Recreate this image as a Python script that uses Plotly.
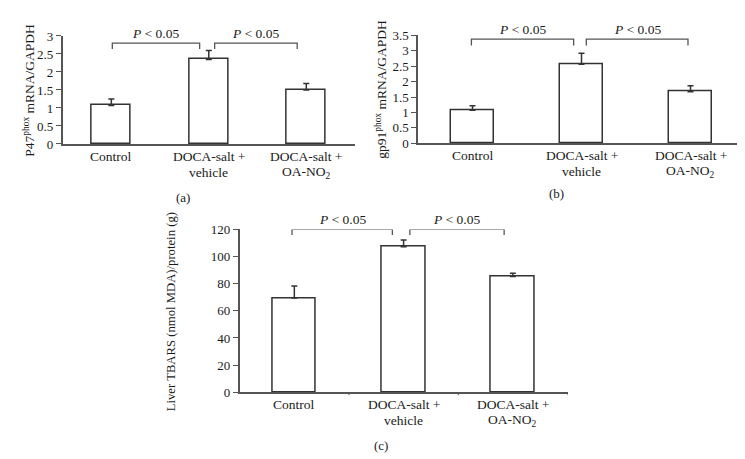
import plotly.graph_objects as go

label_line1 = ["Control", "DOCA-salt +", "DOCA-salt +"]
label_line2 = ["", "vehicle", "OA-NO<sub>2</sub>"]

p47_means = [1.07, 2.35, 1.50]
p47_err = [0.18, 0.25, 0.18]

gp91_means = [1.07, 2.56, 1.67]
gp91_err = [0.15, 0.36, 0.20]

tbars_means = [69.4, 107.2, 85.3]
tbars_err = [9.0, 5.0, 2.4]

p47_ticks = [0, 0.5, 1, 1.5, 2, 2.5, 3]
gp91_ticks = [0, 0.5, 1, 1.5, 2, 2.5, 3, 3.5]
tbars_ticks = [0, 20, 40, 60, 80, 100, 120]

FONT = "Liberation Serif"
AX = "#555555"
BAR_LINE = "#333333"
TXT = "#1a1a1a"

W, H = 745, 459

def px_x(p):
    return p / W

def px_y(p):
    return 1 - p / H

fig = go.Figure()

panels = [
    ("x", "y", p47_means, p47_err),
    ("x2", "y2", gp91_means, gp91_err),
    ("x3", "y3", tbars_means, tbars_err),
]
for xa, ya, means, err in panels:
    fig.add_trace(go.Bar(
        x=[0, 1, 2], y=means, xaxis=xa, yaxis=ya, width=0.40,
        marker=dict(color="white", line=dict(color=BAR_LINE, width=1.5)),
        error_y=dict(type="data", symmetric=False, array=err,
                     arrayminus=[0, 0, 0], color=BAR_LINE, thickness=1.5, width=3),
        showlegend=False, hoverinfo="skip",
    ))

def xaxis(domain, anchor):
    return dict(
        domain=domain, range=[-0.5, 2.5], anchor=anchor,
        showticklabels=False,
        showline=True, linecolor=AX, linewidth=1.5, showgrid=False,
        zeroline=False, ticks="", fixedrange=True,
    )

def yaxis(domain, rng, ticks, anchor):
    return dict(
        domain=domain, range=rng, tickmode="array", tickvals=ticks,
        showline=True, linecolor=AX, linewidth=1.5, showgrid=False,
        zeroline=False, ticks="outside", ticklen=5, tickcolor=AX,
        tickwidth=1, anchor=anchor, fixedrange=True,
        tickfont=dict(family=FONT, size=13, color=TXT),
    )

fig.update_layout(
    width=W, height=H,
    margin=dict(l=0, r=0, t=0, b=0),
    paper_bgcolor="white", plot_bgcolor="white",
    bargap=0,
    xaxis=xaxis([px_x(54.6), px_x(347)], "y"),
    xaxis2=xaxis([px_x(410), px_x(737)], "y2"),
    xaxis3=xaxis([px_x(231.7), px_x(559.5)], "y3"),
    yaxis=yaxis([px_y(133.3), px_y(21.7)], [0, 3], p47_ticks, "x"),
    yaxis2=yaxis([px_y(132.7), px_y(21)], [0, 3.5], gp91_ticks, "x2"),
    yaxis3=yaxis([px_y(390), px_y(221.7)], [0, 120], tbars_ticks, "x3"),
)

# category labels (two lines each)
for xr, axis_px in [("x", 133.3), ("x2", 132.7), ("x3", 390)]:
    for i in range(3):
        for txt, off in [(label_line1[i], 13.0), (label_line2[i], 29.5)]:
            if not txt:
                continue
            fig.add_annotation(x=i, y=px_y(axis_px + off), xref=xr, yref="paper",
                               text=txt, showarrow=False,
                               xanchor="center", yanchor="middle",
                               font=dict(family=FONT, size=13.5, color=TXT))

# boundary ticks on panel (c)
for b in [0.5, 1.5, 2.5]:
    fig.add_shape(type="line", xref="x3", yref="paper", x0=b, x1=b,
                  y0=px_y(390), y1=px_y(393), line=dict(color=AX, width=1))

# significance brackets
brackets = [
    ("x", "y", [(0.01, 0.906), (1.06, 1.907)], 2.80, 2.64),
    ("x2", "y2", [(-0.01, 0.928), (1.044, 1.977)], 3.376, 3.166),
    ("x3", "y3", [(-0.021, 0.897), (1.057, 1.92)], 120, 116),
]
for xr, yr, spans, top, bot in brackets:
    for x0, x1 in spans:
        fig.add_shape(type="path", xref=xr, yref=yr,
                      path=f"M {x0},{bot} L {x0},{top} L {x1},{top} L {x1},{bot}",
                      line=dict(color=AX, width=1.3))
        fig.add_annotation(x=(x0 + x1) / 2, y=top, xref=xr, yref=yr,
                           text="<i>P</i> < 0.05", showarrow=False,
                           yanchor="bottom", yshift=0,
                           font=dict(family=FONT, size=13.5, color=TXT))

# y-axis titles
ytitles = [
    ("P47<sup>phox</sup> mRNA/GAPDH", 21.7, 77.5, 13.5),
    ("gp91<sup>phox</sup> mRNA/GAPDH", 373.3, 77, 13.5),
    ("Liver TBARS (nmol MDA)/protein (g)", 163.3, 307, 12.7),
]
for txt, x, y, fs in ytitles:
    fig.add_annotation(x=px_x(x), y=px_y(y), xref="paper", yref="paper",
                       text=txt, textangle=-90, showarrow=False,
                       xanchor="center", yanchor="middle",
                       font=dict(family=FONT, size=fs, color=TXT))

# panel letters
for txt, x, y in [("(a)", 175, 188.3), ("(b)", 548.7, 185), ("(c)", 373.3, 445)]:
    fig.add_annotation(x=px_x(x), y=px_y(y), xref="paper", yref="paper",
                       text=txt, showarrow=False, xanchor="center", yanchor="middle",
                       font=dict(family=FONT, size=13, color=TXT))

fig.write_html("out.html")
